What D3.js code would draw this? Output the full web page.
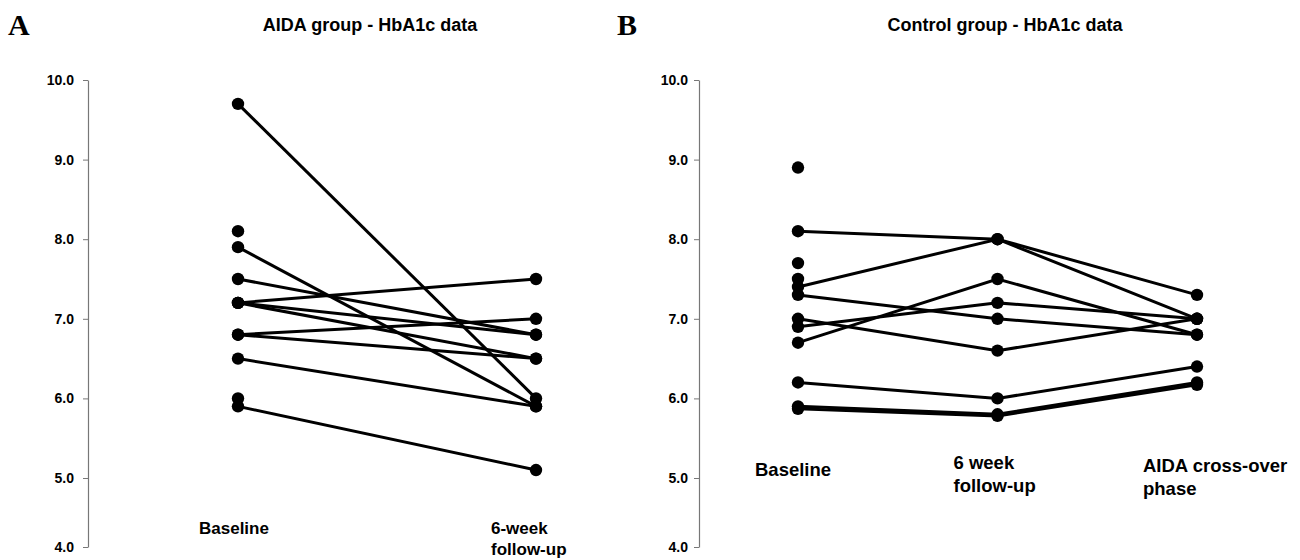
<!DOCTYPE html>
<html>
<head>
<meta charset="utf-8">
<script src="https://cdn.jsdelivr.net/npm/d3@7"></script>
<style>
  body { margin: 0; background: #fff; }
  svg { display: block; font-family: "Liberation Sans", Arial, sans-serif; }
</style>
</head>
<body>
<div id="vis"></div>
<script>
// HbA1c per patient (null = no value at that visit)
const yTicks = [4, 5, 6, 7, 8, 9, 10]

const aidaTimes = ["Baseline", "6-week follow-up"]
const aidaBaseline = [9.7, 8.1, 7.9, 7.5, 7.2, 7.2, 7.2, 6.8, 6.8, 6.5, 6.0, 5.9]
const aidaFollowUp = [6.0, null, 5.9, 6.8, 7.5, 6.8, 6.5, 7.0, 6.5, 5.9, null, 5.1]

const controlTimes = ["Baseline", "6 week follow-up", "AIDA cross-over phase"]
const controlBaseline = [8.9, 8.1, 7.7, 7.5, 7.4, 7.3, 7.0, 6.9, 6.7, 6.2, 5.9, 5.87]
const controlWeek6 = [null, 8.0, null, null, 8.0, 7.0, 6.6, 7.2, 7.5, 6.0, 5.8, 5.78]
const controlCrossOver = [null, 7.3, null, null, 7.0, 6.8, 7.0, 7.0, 6.8, 6.4, 6.2, 6.17]

const width = 1300
const height = 560

let svg = d3.select("#vis")
    .append("svg")
    .attr("width", width)
    .attr("height", height)

// the scanned axis is a bit squeezed below 5.0, hence the 3-point domain
function makeY() {
    return d3.scaleLinear()
        .domain([4, 5, 10])
        .range([547, 478, 80])
}

function drawPanel(opts) {
    let x = d3.scalePoint().domain(opts.times).range(opts.xRange)
    let y = makeY()

    let g = svg.append("g")

    // panel letter
    g.append("text")
        .attr("x", opts.letterX)
        .attr("y", 35)
        .text(opts.letter)
        .style("font-family", "'Liberation Serif', 'Times New Roman', serif")
        .style("font-weight", "bold")
        .style("font-size", "30px")

    // title
    g.append("text")
        .attr("x", opts.titleX)
        .attr("y", 31)
        .attr("text-anchor", "middle")
        .text(opts.title)
        .style("font-weight", "bold")
        .style("font-size", "18px")

    //yAxis
    let yAxis = g.append("g")
        .attr("transform", `translate(${opts.axisX},0)`)
        .call(d3.axisLeft(y)
            .tickValues(yTicks)
            .tickFormat(d3.format(".1f"))
            .tickSizeInner(5)
            .tickSizeOuter(0)
            .tickPadding(opts.tickPad))

    yAxis.select(".domain")
        .attr("stroke", "#777")
        .attr("stroke-width", 1.2)
    yAxis.selectAll(".tick line")
        .attr("stroke", "#777")
    yAxis.selectAll("text")
        .style("font-size", "14px")
        .style("font-weight", "bold")
        .style("fill", "#000")

    // patients
    let rows = opts.series[0].map((d, i) => opts.series.map((s, j) => ({ t: opts.times[j], v: s[i] })))

    let line = d3.line()
        .defined(d => d.v != null)
        .x(d => x(d.t))
        .y(d => y(d.v))

    g.selectAll(".patient")
        .data(rows)
        .join("path")
        .attr("class", "patient")
        .attr("fill", "none")
        .attr("stroke", "#000")
        .attr("stroke-width", 3)
        .attr("d", line)

    g.selectAll(".dot")
        .data(rows.flat().filter(d => d.v != null))
        .join("circle")
        .attr("class", "dot")
        .attr("cx", d => x(d.t))
        .attr("cy", d => y(d.v))
        .attr("r", 6.2)
        .attr("fill", "#000")

    // category labels under the points
    opts.labels.forEach((lab, j) => {
        let lx = x(opts.times[j]) + lab.dx
        let t = g.append("text")
            .attr("x", lx)
            .attr("y", lab.y)
            .style("font-weight", "bold")
            .style("font-size", opts.labelSize)
        lab.lines.forEach((s, k) => {
            t.append("tspan")
                .attr("x", lx)
                .attr("dy", k == 0 ? 0 : "1.25em")
                .text(s)
        })
    })
}

drawPanel({
    letter: "A", letterX: 8,
    title: "AIDA group - HbA1c data", titleX: 370,
    axisX: 88, tickPad: 9,
    times: aidaTimes,
    xRange: [238, 536],
    series: [aidaBaseline, aidaFollowUp],
    labelSize: "17px",
    labels: [
        { dx: -39, y: 534, lines: ["Baseline"] },
        { dx: -45, y: 534, lines: ["6-week", "follow-up"] }
    ]
})

drawPanel({
    letter: "B", letterX: 617,
    title: "Control group - HbA1c data", titleX: 1005,
    axisX: 699, tickPad: 6,
    times: controlTimes,
    xRange: [798, 1197],
    series: [controlBaseline, controlWeek6, controlCrossOver],
    labelSize: "18.5px",
    labels: [
        { dx: -43, y: 476, lines: ["Baseline"] },
        { dx: -44, y: 469, lines: ["6 week", "follow-up"] },
        { dx: -54, y: 472, lines: ["AIDA cross-over", "phase"] }
    ]
})
</script>
</body>
</html>
